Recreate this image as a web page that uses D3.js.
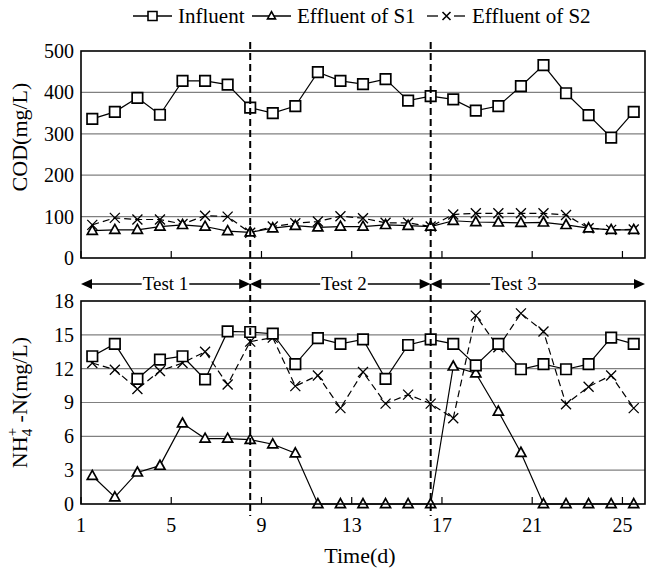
<!DOCTYPE html>
<html><head><meta charset="utf-8">
<script src="https://cdn.jsdelivr.net/npm/d3@7"></script>
<style>body{margin:0;background:#fff}</style>
</head><body><svg id="c" width="647" height="569"></svg>
<script>
const days = [1.5,2.5,3.5,4.5,5.5,6.5,7.5,8.5,9.5,10.5,11.5,12.5,13.5,14.5,15.5,16.5,17.5,18.5,19.5,20.5,21.5,22.5,23.5,24.5,25.5];
const codInfluent = [336,353,387,346,428,428,419,363,350,367,449,428,420,432,380,391,383,356,367,415,466,398,345,291,353];
const codS1 = [66,68,68,76,80,76,65,62,72,78,74,76,76,80,78,76,90,87,86,85,86,80,72,68,68];
const codS2 = [80,97,93,93,82,102,100,61,76,84,88,101,96,85,85,76,105,108,108,108,108,104,72,68,69];
const nhInfluent = [13.1,14.2,11.1,12.8,13.1,11.05,15.3,15.25,15.1,12.4,14.7,14.2,14.6,11.1,14.1,14.6,14.2,12.3,14.2,11.95,12.4,11.95,12.4,14.75,14.2];
const nhS1 = [2.5,0.6,2.8,3.4,7.15,5.8,5.8,5.7,5.3,4.5,0,0,0,0,0,0,12.2,11.6,8.2,4.55,0,0,0,0,0];
const nhS2 = [12.5,11.9,10.2,11.8,12.5,13.5,10.6,14.4,14.75,10.45,11.4,8.5,11.7,8.9,9.7,8.9,7.6,16.7,13.9,16.9,15.3,8.85,10.4,11.4,8.5];
const xTicks = [1,5,9,13,17,21,25];
const codTicks = [0,100,200,300,400,500];
const nhTicks = [0,3,6,9,12,15,18];
const testBounds = [1,8.5,16.5,26];
const testLabels = ["Test 1","Test 2","Test 3"];
const seriesNames = ["Influent","Effluent of S1","Effluent of S2"];

const FONT = '"Liberation Serif"';
const svg = d3.select("#c");
const L=81,R=645;
const x = d3.scaleLinear().domain([1,26]).range([L,R]);
const yTop = d3.scaleLinear().domain([0,500]).range([258,51]);
const yBot = d3.scaleLinear().domain([0,18]).range([504,301]);

function sq(s){return `M${-s/2},${-s/2}h${s}v${s}h${-s}Z`;}
function tri(s){const h=s*0.9;return `M0,${-h*0.6}L${s/2},${h*0.4}L${-s/2},${h*0.4}Z`;}
function cross(s){const a=s/2;return `M${-a},${-a}L${a},${a}M${a},${-a}L${-a},${a}`;}
function txt(sel, size){return sel.style("font-family",FONT).style("font-size",size+"px").attr("fill","#000");}

function panel(y, ticks){
  const g = svg.append("g");
  g.selectAll(".grid").data(ticks.slice(1,-1)).join("line")
    .attr("x1",L).attr("x2",R).attr("y1",d=>y(d)).attr("y2",d=>y(d))
    .attr("stroke","#808080").attr("stroke-width",1.2);
  const ax = g.append("g").attr("transform",`translate(${L},0)`)
    .call(d3.axisLeft(y).tickValues(ticks).tickSize(0).tickPadding(7).tickFormat(d3.format("d")));
  ax.select(".domain").remove();
  txt(ax.selectAll("text"), 20);
  g.selectAll(".xt").data(xTicks).join("line")
    .attr("x1",d=>x(d)).attr("x2",d=>x(d)).attr("y1",y(0)).attr("y2",y(0)-7)
    .attr("stroke","#000").attr("stroke-width",1.2);
  return g;
}
const gTop = panel(yTop, codTicks);
const gBot = panel(yBot, nhTicks);

svg.selectAll(".sep").data(testBounds.slice(1,3)).join("line")
  .attr("x1",d=>x(d)).attr("x2",d=>x(d)).attr("y1",42).attr("y2",516)
  .attr("stroke","#000").attr("stroke-width",2).attr("stroke-dasharray","7,4");

function drawSeries(g, y, vals, kind){
  const line = d3.line().x((d,i)=>x(days[i])).y(d=>y(d));
  g.append("path").datum(vals).attr("d",line).attr("fill","none")
    .attr("stroke","#000").attr("stroke-width",1.2)
    .attr("stroke-dasharray", kind==="x" ? "7,4" : null);
  const sym = kind==="sq" ? sq(10.5) : kind==="tri" ? tri(10) : cross(10);
  g.selectAll(".m"+kind).data(vals).join("path")
    .attr("transform",(d,i)=>`translate(${x(days[i])},${y(d)})`)
    .attr("d",sym).attr("fill", kind==="x"?"none":"#fff")
    .attr("stroke","#000").attr("stroke-width", kind==="x"?1.3:1.7);
}
drawSeries(gTop,yTop,codS2,"x");
drawSeries(gTop,yTop,codS1,"tri");
drawSeries(gTop,yTop,codInfluent,"sq");
drawSeries(gBot,yBot,nhS2,"x");
drawSeries(gBot,yBot,nhS1,"tri");
drawSeries(gBot,yBot,nhInfluent,"sq");

[yTop,yBot].forEach(y=>{
  svg.append("rect").attr("x",L).attr("y",y.range()[1]).attr("width",R-L).attr("height",y.range()[0]-y.range()[1])
    .attr("fill","none").attr("stroke","#000").attr("stroke-width",1.6);
});

const T = svg.append("g");
txt(T.selectAll(".xl").data(xTicks).join("text")
  .attr("x",d=>x(d)).attr("y",532).attr("text-anchor","middle").text(d=>d), 20);
txt(T.append("text").attr("x",360).attr("y",563).attr("text-anchor","middle").text("Time(d)"), 22);

txt(T.append("text").attr("transform",`translate(27,137) rotate(-90)`).attr("text-anchor","middle")
  .text("COD(mg/L)"), 22);
const nt = txt(T.append("text").attr("transform",`translate(27,${(301+504)/2}) rotate(-90)`).attr("text-anchor","middle"), 22);
nt.append("tspan").text("NH");
nt.append("tspan").attr("dy",5).style("font-size","15px").text("4");
nt.append("tspan").attr("dy",-15).attr("dx",-7.5).style("font-size","15px").text("+");
nt.append("tspan").attr("dy",10).text(" -N(mg/L)");

const ay = 284;
const textCenters = [165.5, 344, 514];
testLabels.forEach((t,i)=>{
  const a = x(testBounds[i]), b = x(testBounds[i+1]);
  const tx = txt(T.append("text").attr("x",textCenters[i]).attr("y",ay+6).attr("text-anchor","middle").text(t), 19);
  const w = tx.node().getComputedTextLength();
  const l = textCenters[i]-w/2-1, r = textCenters[i]+w/2+1;
  T.append("line").attr("x1",a+8).attr("x2",l).attr("y1",ay).attr("y2",ay).attr("stroke","#000").attr("stroke-width",1.3);
  T.append("line").attr("x1",r).attr("x2",b-8).attr("y1",ay).attr("y2",ay).attr("stroke","#000").attr("stroke-width",1.3);
  T.append("path").attr("d",`M${a},${ay}L${a+11},${ay-5}L${a+11},${ay+5}Z`).attr("fill","#000");
  T.append("path").attr("d",`M${b},${ay}L${b-11},${ay-5}L${b-11},${ay+5}Z`).attr("fill","#000");
});

const legX = [133, 252, 427];
const legKinds = ["sq","tri","x"];
seriesNames.forEach((n,i)=>{
  const x0 = legX[i], ly = 16;
  if(legKinds[i]==="x"){
    T.append("line").attr("x1",x0).attr("x2",x0+11).attr("y1",ly).attr("y2",ly).attr("stroke","#000").attr("stroke-width",1.3);
    T.append("line").attr("x1",x0+27).attr("x2",x0+38).attr("y1",ly).attr("y2",ly).attr("stroke","#000").attr("stroke-width",1.3);
  } else {
    T.append("line").attr("x1",x0).attr("x2",x0+39).attr("y1",ly).attr("y2",ly).attr("stroke","#000").attr("stroke-width",1.3);
  }
  const sym = legKinds[i]==="sq" ? sq(9) : legKinds[i]==="tri" ? tri(8) : cross(8);
  T.append("path").attr("transform",`translate(${x0+19.5},${ly})`).attr("d",sym)
    .attr("fill",legKinds[i]==="x"?"none":"#fff").attr("stroke","#000").attr("stroke-width",1.6);
  txt(T.append("text").attr("x",x0+45).attr("y",ly+7).text(n), 21);
});
</script></body></html>
